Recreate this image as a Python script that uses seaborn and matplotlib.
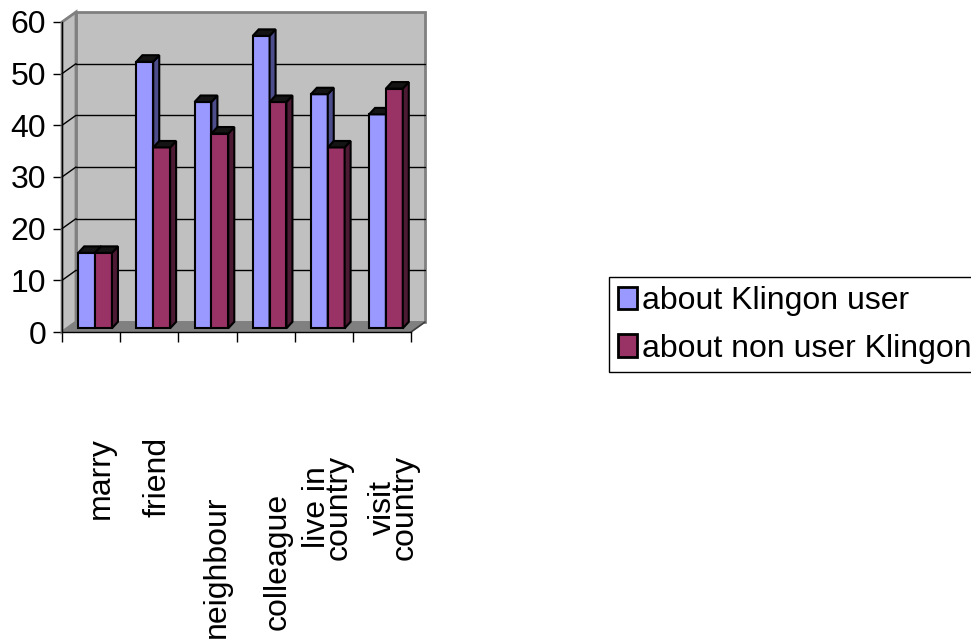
import matplotlib
matplotlib.use("Agg")
import matplotlib.pyplot as plt
from matplotlib.patches import Polygon, Patch, Rectangle
import numpy as np
import pandas as pd
import seaborn as sns

# ---- data -------------------------------------------------------------
categories = ["marry", "friend", "neighbour", "colleague",
              "live in\ncountry", "visit\ncountry"]
series_names = ["about Klingon user", "about non user Klingon"]
klingon_user = [14.6, 51.6, 43.8, 56.6, 45.3, 41.4]
non_user = [14.6, 35.0, 37.7, 43.8, 35.0, 46.4]
y_ticks = [0, 10, 20, 30, 40, 50, 60]

front_colors = ["#9999FF", "#993366"]
side_colors = ["#4D4D8C", "#4D1A33"]
top_color = "#141414"

df = pd.DataFrame({
    "category": categories * 2,
    "series": [series_names[0]] * len(categories) + [series_names[1]] * len(categories),
    "value": klingon_user + non_user,
})

# ---- figure -----------------------------------------------------------
sns.set_theme(style="white")
plt.rcParams["font.family"] = ["Liberation Sans", "DejaVu Sans"]
plt.rcParams["text.color"] = "black"
plt.rcParams["xtick.color"] = "black"
plt.rcParams["ytick.color"] = "black"
plt.rcParams["axes.labelcolor"] = "black"
FS = 23

W, H = 971, 644
fig = plt.figure(figsize=(W / 100, H / 100), dpi=100)
ax = fig.add_axes([62 / W, 1 - 332 / H, 349 / W, 310 / H])
ax.set_facecolor("none")

sns.barplot(data=df, x="category", y="value", hue="series",
            palette=front_colors, width=0.58, errorbar=None,
            saturation=1, edgecolor="black", linewidth=1.5,
            legend=False, ax=ax)
bars = [p for p in ax.patches if isinstance(p, Rectangle) and p.get_height() > 0]

n = len(categories)
ax.set_xlim(-0.5, n - 0.5)
ax.set_ylim(0, 60)

# pixel -> data conversion for the depth effect
px_x = ax.bbox.width / n          # pixels per category
px_y = ax.bbox.height / 60.0      # pixels per value unit
dx = lambda p: p / px_x
dy = lambda p: p / px_y

# ---- walls & floor ----------------------------------------------------
wx, wy = dx(14), dy(10)
x0, x1 = -0.5, n - 0.5
back = Polygon([(x0 + wx, wy), (x1 + wx, wy), (x1 + wx, 60 + wy), (x0 + wx, 60 + wy)],
               closed=True, facecolor="#C0C0C0", edgecolor="#808080", lw=2,
               clip_on=False, zorder=0.5)
side = Polygon([(x0, 0), (x0 + wx, wy), (x0 + wx, 60 + wy), (x0, 60)],
               closed=True, facecolor="#C0C0C0", edgecolor="#808080", lw=2,
               clip_on=False, zorder=0.6)
floor = Polygon([(x0, 0), (x1, 0), (x1 + wx, wy), (x0 + wx, wy)],
                closed=True, facecolor="#808080", edgecolor="#808080", lw=1,
                clip_on=False, zorder=0.7)
for p in (back, side, floor):
    ax.add_patch(p)
ax.plot([x1, x1 + wx], [0, wy], color="#404040", lw=1.2, clip_on=False, zorder=0.8)

# gridlines on the back and side walls
for v in y_ticks[1:-1]:
    ax.plot([x0 + wx, x1 + wx], [v + wy, v + wy], color="black", lw=1,
            clip_on=False, zorder=0.9)
    ax.plot([x0, x0 + wx], [v, v + wy], color="black", lw=1,
            clip_on=False, zorder=0.9)

# ---- 3D bars ----------------------------------------------------------
ox, oy = dx(4), dy(3.7)      # bar front face set back from the front plane
bx, by = dx(6), dy(6.5)      # bar depth
for k, bar in enumerate(bars):
    s = k // n
    z = 3 + s * 0.2
    xl = bar.get_x() + ox
    wd = bar.get_width()
    h = bar.get_height()
    bar.set_x(xl)
    bar.set_y(oy)
    bar.set_zorder(z)
    bar.set_clip_on(False)
    top = Polygon([(xl, oy + h), (xl + wd, oy + h), (xl + wd + bx, oy + h + by), (xl + bx, oy + h + by)],
                  closed=True, facecolor=top_color, edgecolor="black", lw=1.5,
                  clip_on=False, zorder=z + 0.1)
    sd = Polygon([(xl + wd, oy), (xl + wd + bx, oy + by), (xl + wd + bx, oy + h + by), (xl + wd, oy + h)],
                 closed=True, facecolor=side_colors[s], edgecolor="black", lw=1.5,
                 clip_on=False, zorder=z + 0.1)
    ax.add_patch(sd)
    ax.add_patch(top)

# ---- axes -------------------------------------------------------------
for sp in ("top", "right"):
    ax.spines[sp].set_visible(False)
for sp in ("left", "bottom"):
    ax.spines[sp].set_color("black")
    ax.spines[sp].set_linewidth(1)

ax.set_yticks(y_ticks)
ax.set_yticklabels([str(t) for t in y_ticks], fontsize=FS)
ax.tick_params(axis="y", direction="out", length=6.5, width=1, color="black",
               labelcolor="black", pad=5, left=True)
ax.set_xticks(np.arange(n + 1) - 0.5)
ax.set_xticklabels([])
ax.tick_params(axis="x", direction="out", length=7.2, width=1, color="black",
               bottom=True)
ax.set_xlabel("")
ax.set_ylabel("")

# category labels, rotated, with individual vertical placement
label_tops = [437, 437, 496, 493, 455, 455]
label_dx = [10, 8, 9, 12, 4, 12]
for i, (lbl, t, ddx) in enumerate(zip(categories, label_tops, label_dx)):
    ax.annotate(lbl, xy=(i, H - t), xycoords=("data", "figure pixels"),
                xytext=(ddx, 0), textcoords="offset pixels",
                rotation=90, ha="center", va="top", multialignment="center",
                linespacing=0.62, fontsize=FS, color="black",
                annotation_clip=False)

# ---- legend -----------------------------------------------------------
handles = [Patch(facecolor=c, edgecolor="black", lw=2) for c in front_colors]
leg = fig.legend(handles, series_names, loc="upper left",
                 bbox_to_anchor=(609 / W, 1 - 277 / H), borderaxespad=0,
                 frameon=True, fancybox=False, edgecolor="black", framealpha=1,
                 fontsize=FS, handlelength=0.6, handleheight=0.7,
                 handletextpad=0.15, borderpad=0.28, labelspacing=0.55)
leg.get_frame().set_linewidth(1)
for t in leg.get_texts():
    t.set_color("black")

fig.savefig("out.png", dpi=100)
